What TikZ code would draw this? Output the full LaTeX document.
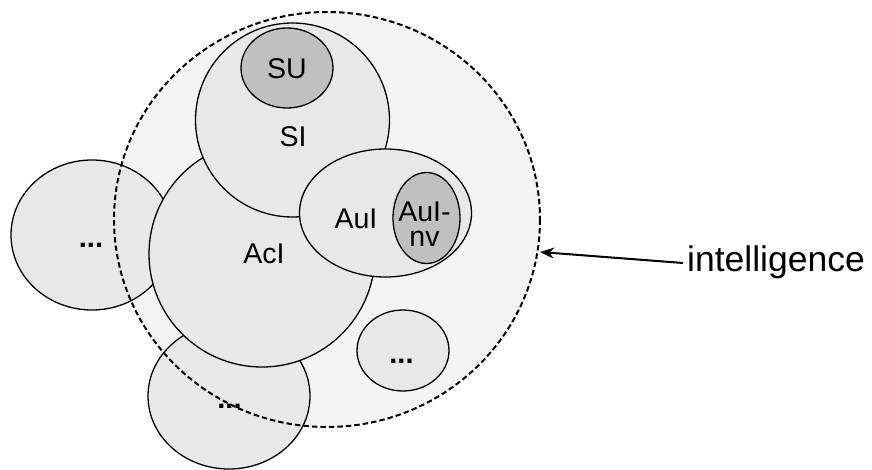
\documentclass[tikz,border=0pt]{standalone}
\usepackage{fontspec}
\setmainfont{Liberation Sans}
\usetikzlibrary{arrows.meta,calc}
\definecolor{outerfill}{HTML}{F4F4F4}
\definecolor{setfill}{HTML}{E8E8E8}
\definecolor{corefill}{HTML}{C0C0C0}
\tikzset{
  setshape/.style={draw=black, line width=1.3pt, fill=setfill},
  coreshape/.style={draw=black, line width=1.3pt, fill=corefill},
  lbl/.style={font=\fontsize{28.5}{32}\selectfont, anchor=base, inner sep=0pt},
  dotlbl/.style={font=\fontsize{29}{32}\selectfont\bfseries, anchor=base, inner sep=0pt},
  boundary/.style={draw=black, line width=2pt, dash pattern=on 5.5pt off 3pt},
  pointer/.style={draw=black, line width=2pt, -{Stealth[length=14pt,width=11pt]}},
}
\begin{document}
\begin{tikzpicture}[x=1pt,y=-1pt]
\useasboundingbox (0,0) rectangle (872,470);
% outer region fill
\fill[outerfill] (327,219.5) ellipse (213 and 207.5);
% sets
\path[setshape] (92,235) ellipse (81 and 75);
\path[setshape] (229,396) ellipse (81 and 73);
\path[setshape] (262,254) circle (113);
\path[setshape] (292.5,120) circle (97);
\path[coreshape] (287,68) ellipse (46 and 40);
\path[setshape] (385.5,213) ellipse (86 and 64);
\path[coreshape] (426.5,218) ellipse (33.5 and 45.5);
\path[setshape] (403,350.5) ellipse (46 and 40.5);
% dashed boundary on top
\draw[boundary] (327,219.5) ellipse (213 and 207.5);
% labels
\node[lbl] (su) at (287,79) {SU};
\node[lbl] (si) at (293,147) {SI};
\node[lbl] (aci) at (264,263) {AcI};
\node[lbl] (aui) at (356,229) {AuI};
\node[font=\fontsize{28.5}{25}\selectfont, inner sep=0pt, align=center, anchor=center] (auinv) at (424.5,224) {AuI-\\nv};
\node[dotlbl] (dotsleft) at (91,247.5) {...};
\node[dotlbl] (dotsbottom) at (229.5,408) {...};
\node[dotlbl] (dotssmall) at (401.5,363) {...};
% pointer
\node[font=\fontsize{35.5}{40}\selectfont, anchor=base west, inner sep=0pt] (intel) at (687,271) {intelligence};
\coordinate (tip) at (540,252);
\draw[pointer] ($(intel.base west)+(-4,-8)$) -- (tip);
\end{tikzpicture}
\end{document}
